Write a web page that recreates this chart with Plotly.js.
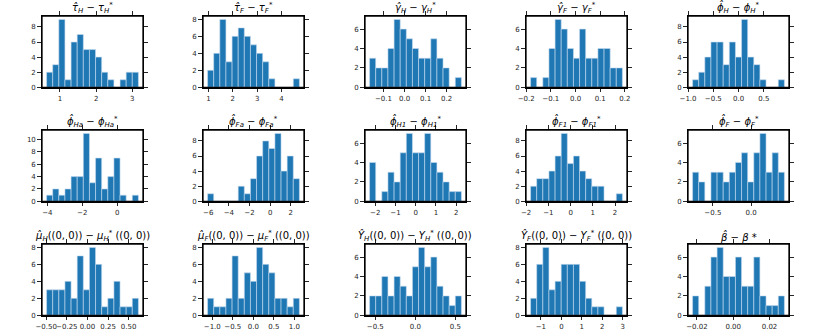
<!DOCTYPE html>
<html>
<head>
<meta charset="utf-8">
<script src="https://cdn.plot.ly/plotly-3.0.1.min.js"></script>
<style>html,body{margin:0;padding:0;background:#fff;}#chart{width:830px;height:332px;}</style>
</head>
<body>
<div id="chart"></div>
<script>
// ---- data ----
const titles = [
  "<i>τ̂<sub>H</sub></i> − <i>τ<sub>H</sub><sup>*</sup></i>",
  "<i>τ̂<sub>F</sub></i> − <i>τ<sub>F</sub><sup>*</sup></i>",
  "<i>γ̂<sub>H</sub></i> − <i>γ<sub>H</sub><sup>*</sup></i>",
  "<i>γ̂<sub>F</sub></i> − <i>γ<sub>F</sub><sup>*</sup></i>",
  "<i>ϕ̂<sub>H</sub></i> − <i>ϕ<sub>H</sub><sup>*</sup></i>",
  "<i>ϕ̂<sub>Ha</sub></i> − <i>ϕ<sub>Ha</sub><sup>*</sup></i>",
  "<i>ϕ̂<sub>Fa</sub></i> − <i>ϕ<sub>Fa</sub><sup>*</sup></i>",
  "<i>ϕ̂<sub>H1</sub></i> − <i>ϕ<sub>H1</sub><sup>*</sup></i>",
  "<i>ϕ̂<sub>F1</sub></i> − <i>ϕ<sub>F1</sub><sup>*</sup></i>",
  "<i>ϕ̂<sub>F</sub></i> − <i>ϕ<sub>F</sub><sup>*</sup></i>",
  "<i>μ̂<sub>H</sub></i>((0, 0)) − <i>μ<sub>H</sub><sup>*</sup></i> ((0, 0))",
  "<i>μ̂<sub>F</sub></i>((0, 0)) − <i>μ<sub>F</sub><sup>*</sup></i> ((0, 0))",
  "<i>Ŷ<sub>H</sub></i>((0, 0)) − <i>Y<sub>H</sub><sup>*</sup></i> ((0, 0))",
  "<i>Ŷ<sub>F</sub></i>((0, 0)) − <i>Y<sub>F</sub><sup>*</sup></i> ((0, 0))",
  "<i>β̂</i> − <i>β</i> *"
];
const binLo = [0.63, 0.96, -0.166, -0.182, -0.91, -4.04, -6.06, -2.28, -1.80, -0.765, -0.495, -1.114, -0.571, -1.504, -0.0224];
const binHi = [3.17, 4.74, 0.27, 0.19, 0.905, 1.22, 2.84, 2.26, 2.33, 0.435, 0.618, 1.122, 0.575, 2.984, 0.0282];

const countsTauH   = [2,3,9,1,6,7,5,5,4,2,1,0,1,2,2];
const countsTauF   = [2,4,8,3,6,7,6,5,4,3,1,0,0,0,1];
const countsGamH   = [3,2,2,4,7,6,5,4,3,3,5,3,2,0,1];
const countsGamF   = [1,0,1,4,7,6,4,3,6,3,3,4,4,2,2];
const countsPhiH   = [1,2,4,6,6,3,6,4,9,4,3,1,0,0,1];
const countsPhiHa  = [1,2,1,2,4,4,11,3,7,2,4,7,1,0,1];
const countsPhiFa  = [1,0,0,0,0,2,1,3,6,8,7,9,4,6,3];
const countsPhiH1  = [4,0,1,3,2,5,7,5,5,7,4,3,2,1,1];
const countsPhiF1  = [2,3,3,4,6,9,5,6,4,3,2,2,0,0,1];
const countsPhiF   = [3,2,0,3,3,2,3,4,5,2,5,7,3,5,3];
const countsMuH    = [3,3,3,4,2,7,3,8,6,1,2,4,1,1,2];
const countsMuF    = [2,1,1,2,7,2,5,4,8,6,5,2,2,1,2];
const countsYH     = [2,2,4,2,4,3,2,5,7,5,6,3,2,1,2];
const countsYF     = [2,6,8,3,4,6,6,6,4,2,1,1,0,0,1];
const countsBeta   = [2,0,3,6,7,4,4,6,3,3,6,2,1,1,2];

const allCounts = [countsTauH, countsTauF, countsGamH, countsGamF, countsPhiH,
                   countsPhiHa, countsPhiFa, countsPhiH1, countsPhiF1, countsPhiF,
                   countsMuH, countsMuF, countsYH, countsYF, countsBeta];

const xTickStep = [1, 1, 0.1, 0.1, 0.5, 2, 2, 1, 1, 0.5, 0.25, 0.5, 0.5, 1, 0.02];
const xTickFmt  = ['d','d','.1f','.1f','.1f','d','d','d','d','.1f','.2f','.1f','.1f','d','.2f'];

// ---- build ----
const W = 830, H = 332;
const axLeft0 = 42, axStepX = 161.4, axW = 101;
const axTop0 = 15.7, axStepY = 114.3, axH = 71.3;
const barColor = '#1f77b4';
const spine = '#000000';

const traces = [];
const layout = {
  width: W, height: H,
  margin: {l:0, r:0, t:0, b:0},
  paper_bgcolor: '#ffffff', plot_bgcolor: '#ffffff',
  showlegend: false, bargap: 0,
  font: {family: 'DejaVu Sans, sans-serif', color: '#262626'},
  annotations: [], shapes: []
};

allCounts.forEach((counts, i) => {
  const r = Math.floor(i / 5), c = i % 5;
  const n = counts.length;
  const w = (binHi[i] - binLo[i]) / n;
  const centers = counts.map((_, k) => binLo[i] + w * (k + 0.5));
  const sfx = i === 0 ? '' : String(i + 1);
  traces.push({
    type: 'bar', x: centers, y: counts, width: w,
    xaxis: 'x' + sfx, yaxis: 'y' + sfx,
    marker: {color: barColor, line: {color: 'rgba(200,220,240,0.75)', width: 0.8}},
    hoverinfo: 'skip'
  });
  const left = Math.round(axLeft0 + axStepX * c);
  const top = Math.round(axTop0 + axStepY * r);
  const R = binHi[i] - binLo[i];
  const ymax = Math.max(...counts);
  const common = {
    showline: true, mirror: 'all', linecolor: spine, linewidth: 1.3,
    ticks: 'outside', ticklen: 3.5, tickwidth: 1, tickcolor: '#262626',
    showgrid: false, zeroline: false, fixedrange: true, tickangle: 0,
    tickfont: {size: 7, color: '#262626', family: 'DejaVu Sans, sans-serif'}
  };
  layout['xaxis' + sfx] = Object.assign({}, common, {
    domain: [left / W, (left + axW) / W],
    anchor: 'y' + sfx,
    range: [binLo[i] - 0.05 * R, binHi[i] + 0.05 * R],
    tickmode: 'linear', tick0: 0, dtick: xTickStep[i], tickformat: xTickFmt[i]
  });
  layout['yaxis' + sfx] = Object.assign({}, common, {
    domain: [1 - (top + axH) / H, 1 - top / H],
    anchor: 'x' + sfx,
    range: [0, ymax * 1.05],
    tickmode: 'linear', tick0: 0, dtick: 2
  });
  layout.shapes.push({
    type: 'rect', xref: 'x' + sfx + ' domain', yref: 'y' + sfx + ' domain',
    x0: 0, x1: 1, y0: 0, y1: 1, layer: 'above',
    line: {color: spine, width: 1.3}, fillcolor: 'rgba(0,0,0,0)'
  });
  layout.annotations.push({
    text: titles[i], xref: 'paper', yref: 'paper',
    x: (left + axW / 2) / W, y: 1 - top / H,
    xanchor: 'center', yanchor: 'bottom', yshift: -1,
    showarrow: false, font: {size: 10, color: '#000', family: 'DejaVu Sans, sans-serif'}
  });
});

Plotly.newPlot('chart', traces, layout, {staticPlot: true, displayModeBar: false});
</script>
</body>
</html>
